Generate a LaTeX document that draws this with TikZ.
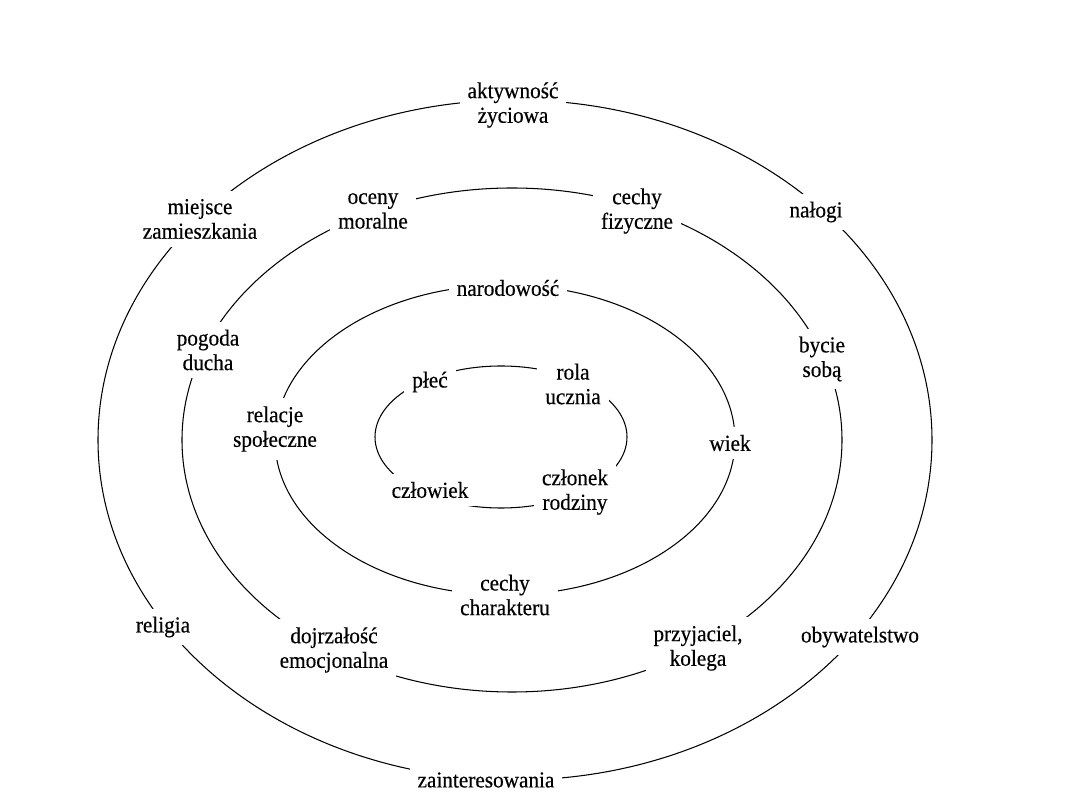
\documentclass[tikz,border=0pt]{standalone}
\usepackage{fontspec}
\setmainfont{Liberation Serif}[FakeStretch=0.93, FakeBold=0.4]
\usepackage{tikz}
\usetikzlibrary{positioning}

\tikzset{
    ring/.style={line width=0.6pt},
    lbl/.style={fill=white, inner sep=4.5pt, align=center, font=\fontsize{13}{14}\selectfont}
}

\begin{document}
\begin{tikzpicture}[x=0.02cm, y=-0.02cm]
    \useasboundingbox (0,0) rectangle (1080,810);

    % rings
    \draw[ring] (515,440) ellipse [x radius=417, y radius=340];
    \draw[ring] (512,440) ellipse [x radius=330, y radius=252];
    \draw[ring] (505,440) ellipse [x radius=230, y radius=155];
    \draw[ring] (501,437) ellipse [x radius=126, y radius=71];

    % outer ring
    \node[lbl] (aktywnosc) at (513,105) {aktywność\\życiowa};
    \node[lbl] (miejsce) at (200,219) {miejsce\\zamieszkania};
    \node[lbl] (nalogi) at (816,212) {nałogi};
    \node[lbl] (religia) at (163,627) {religia};
    \node[lbl] (obywatel) at (860,637) {obywatelstwo};
    \node[lbl] (zaint) at (486,780) {zainteresowania};

    % second ring
    \node[lbl] (oceny) at (373,211) {oceny\\moralne};
    \node[lbl] (fizyczne) at (637,211) {cechy\\fizyczne};
    \node[lbl] (pogoda) at (208,350) {pogoda\\ducha};
    \node[lbl] (bycie) at (822,359) {bycie\\sobą};
    \node[lbl] (dojrzal) at (334,650) {dojrzałość\\emocjonalna};
    \node[lbl] (przyjaciel) at (698,648) {przyjaciel,\\kolega};

    % third ring
    \node[lbl] (narod) at (508,288) {narodowość};
    \node[lbl] (relacje) at (275,429) {relacje\\społeczne};
    \node[lbl] (wiek) at (730,443) {wiek};
    \node[lbl] (charakter) at (505,595) {cechy\\charakteru};

    % inner ring
    \node[lbl] (plec) at (430,382) {płeć};
    \node[lbl] (rola) at (573,384) {rola\\ucznia};
    \node[lbl] (czlowiek) at (430,490) {człowiek};
    \node[lbl] (czlonek) at (575,492) {członek\\rodziny};
\end{tikzpicture}
\end{document}
